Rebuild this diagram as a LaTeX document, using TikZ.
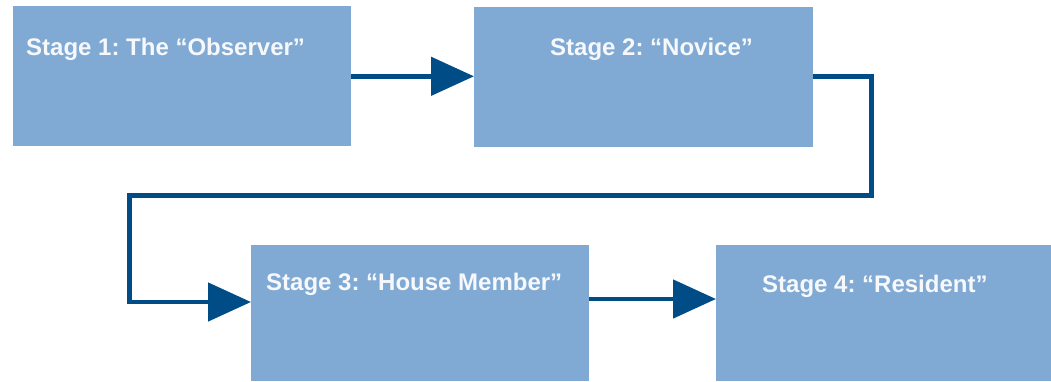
\documentclass[tikz,border=0pt]{standalone}
\usepackage{fontspec}
\setmainfont{Liberation Sans}
\usetikzlibrary{arrows.meta}
\definecolor{boxfill}{RGB}{128,170,211}
\definecolor{arrowblue}{RGB}{0,76,134}
\definecolor{textwhite}{RGB}{246,248,252}
\frenchspacing
\tikzset{
  stagebox/.style={fill=boxfill, draw=none, inner sep=0pt, anchor=north west},
  stagetext/.style={text=textwhite, inner sep=0pt, anchor=base west, font=\fontsize{24}{28}\selectfont\bfseries},
  flow/.style={draw=arrowblue, line width=4.8pt, line join=miter, -{Triangle[length=43pt,width=38pt]}}
}
\begin{document}
\begin{tikzpicture}[x=1pt,y=-1pt]
\useasboundingbox (0,0) rectangle (1051,381);
\node[stagebox, minimum width=338pt, minimum height=140pt] (b1) at (13,6) {};
\node[stagebox, minimum width=339pt, minimum height=140pt] (b2) at (474,7) {};
\node[stagebox, minimum width=338pt, minimum height=136pt] (b3) at (251,245) {};
\node[stagebox, minimum width=340pt, minimum height=136pt] (b4) at (716,245) {};
\node[stagetext] (t1) at (26,55) {Stage 1: The “Observer”};
\node[stagetext] (t2) at (550,55) {Stage 2: “Novice”};
\node[stagetext] (t3) at (266,290) {Stage 3: “House Member”};
\node[stagetext] (t4) at (762,292) {Stage 4: “Resident”};
\coordinate (c1) at (871.5,195.5);
\coordinate (c2) at (129.5,302);
\draw[flow] (b1.east |- 0,76.3) -- (b2.west |- 0,76.3);
\draw[flow] (b2.east |- 0,76.7) -| (c1) -| (c2) -- (b3.west |- c2);
\draw[flow] (b3.east |- 0,299) -- (b4.west |- 0,299);
\end{tikzpicture}
\end{document}
